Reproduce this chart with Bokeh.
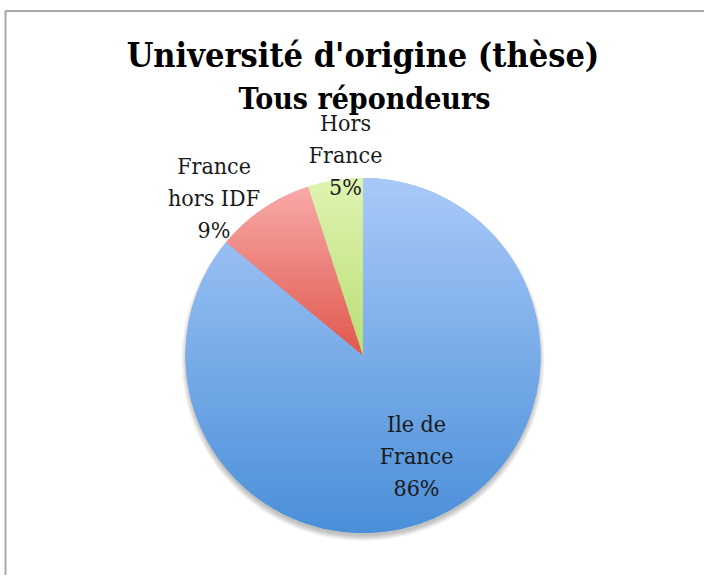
import numpy as np
from bokeh.plotting import figure
from bokeh.models import Range1d, ColumnDataSource
from bokeh.core.properties import value
from bokeh.embed import file_html
from bokeh.resources import INLINE

# ---------------- data ----------------
categories = ["Ile de France", "France hors IDF", "Hors France"]
values = [86, 9, 5]
label_lines = [["Ile de", "France"], ["France", "hors IDF"], ["Hors", "France"]]
title_text = "Université d'origine (thèse)"
subtitle_text = "Tous répondeurs"

# ---------------- style ----------------
top_colors = ["#a9c9f8", "#f8aaa8", "#dff4b2"]
bottom_colors = ["#4a8fd9", "#e0574c", "#b9de74"]
mid_colors = ["#79ace8", "#ec807a", "#cce993"]
FONT = "DejaVu Serif Condensed"
BASE_FIX = 0.4  # empirical baseline correction (fraction of font size)

W, H = 704, 575


def Y(yi):
    return H - yi


CX, CY, R = 362.5, Y(355), 177.5
label_anchor = [(416, 433), (213.5, 175), (345, 132)]  # centre x, first baseline (px from top)
LINE = 32
LABEL_PX, TITLE_PX, SUB_PX = 23, 34, 30

p = figure(width=W, height=H, x_range=Range1d(0, W), y_range=Range1d(0, H),
           output_backend="svg", toolbar_location=None,
           x_axis_location=None, y_axis_location=None, min_border=0)
p.grid.visible = False
p.outline_line_color = None
p.background_fill_color = "white"
p.border_fill_color = "white"

# frame (top and left edges visible)
p.line(x=[5, 5, W + 5], y=[-5, Y(10.5), Y(10.5)], line_color="#a8a8a8", line_width=2)

# ---------------- pie geometry ----------------
fr = np.array(values, dtype=float) / sum(values)
cum = np.concatenate([[0.0], np.cumsum(fr)])
start = np.pi / 2 - 2 * np.pi * cum[:-1]
end = np.pi / 2 - 2 * np.pi * cum[1:]

# soft shadow
nsh = 6
p.circle(x=[CX] * nsh, y=[CY - 4] * nsh, radius=[R + 4 - j for j in range(nsh)],
         fill_color="black", fill_alpha=0.045, line_color=None)

src = ColumnDataSource(dict(cat=categories, val=values, start=start, end=end, color=mid_colors))
p.wedge(x=CX, y=CY, radius=R, start_angle="start", end_angle="end", direction="clock",
        fill_color="color", line_color=None, source=src)


def hex2rgb(h):
    h = h.lstrip("#")
    return np.array([int(h[i:i + 2], 16) for i in (0, 2, 4)], dtype=float)


def rgb2hex(c):
    c = np.clip(np.round(c), 0, 255).astype(int)
    return "#%02x%02x%02x" % tuple(c)


def clip(poly, y0, keep_ge):
    out = []
    n = len(poly)
    for k in range(n):
        P = poly[k]
        Q = poly[(k + 1) % n]
        inP = P[1] >= y0 if keep_ge else P[1] <= y0
        inQ = Q[1] >= y0 if keep_ge else Q[1] <= y0
        if inP:
            out.append(P)
        if inP != inQ:
            t = (y0 - P[1]) / (Q[1] - P[1])
            out.append((P[0] + t * (Q[0] - P[0]), y0))
    return out


# vertical gradient for every slice, built from the slice angles
gx, gy, gc = [], [], []
NB = 70
for i in range(len(values)):
    npts = max(8, int(abs(end[i] - start[i]) / (2 * np.pi) * 360))
    angs = np.linspace(start[i], end[i], npts)
    poly = [(CX, CY)] + [(CX + R * np.cos(a), CY + R * np.sin(a)) for a in angs]
    ys = [q[1] for q in poly]
    ymax, ymin = max(ys), min(ys)
    h = (ymax - ymin) / NB
    c0, c1 = hex2rgb(top_colors[i]), hex2rgb(bottom_colors[i])
    for k in range(NB):
        y_hi = ymax - k * h
        y_lo = y_hi - h - 0.7
        piece = clip(clip(poly, y_lo, True), y_hi, False)
        if len(piece) < 3:
            continue
        t = (k + 0.5) / NB
        gx.append([q[0] for q in piece])
        gy.append([q[1] for q in piece])
        gc.append(rgb2hex(c0 + (c1 - c0) * t))

p.patches(xs=gx, ys=gy, fill_color=gc, line_color=None)

# ---------------- labels ----------------
lx, ly, lt = [], [], []
for i in range(len(values)):
    lines = label_lines[i] + ["%d%%" % values[i]]
    ax, ay = label_anchor[i]
    for j, s in enumerate(lines):
        lx.append(ax)
        ly.append(Y(ay + j * LINE - BASE_FIX * LABEL_PX))
        lt.append(s)
p.text(x=lx, y=ly, text=lt, text_align="center", text_baseline="alphabetic",
       text_font=value(FONT), text_font_size="%dpx" % LABEL_PX, text_color="#1a1a1a")

p.text(x=[362.5], y=[Y(68 - BASE_FIX * TITLE_PX)], text=[title_text], text_align="center",
       text_baseline="alphabetic", text_font=value(FONT), text_font_size="%dpx" % TITLE_PX,
       text_font_style="bold", text_color="#000000")
p.text(x=[364], y=[Y(110 - BASE_FIX * SUB_PX)], text=[subtitle_text], text_align="center",
       text_baseline="alphabetic", text_font=value(FONT), text_font_size="%dpx" % SUB_PX,
       text_font_style="bold", text_color="#000000")

open("out.html", "w").write(file_html(p, INLINE))
